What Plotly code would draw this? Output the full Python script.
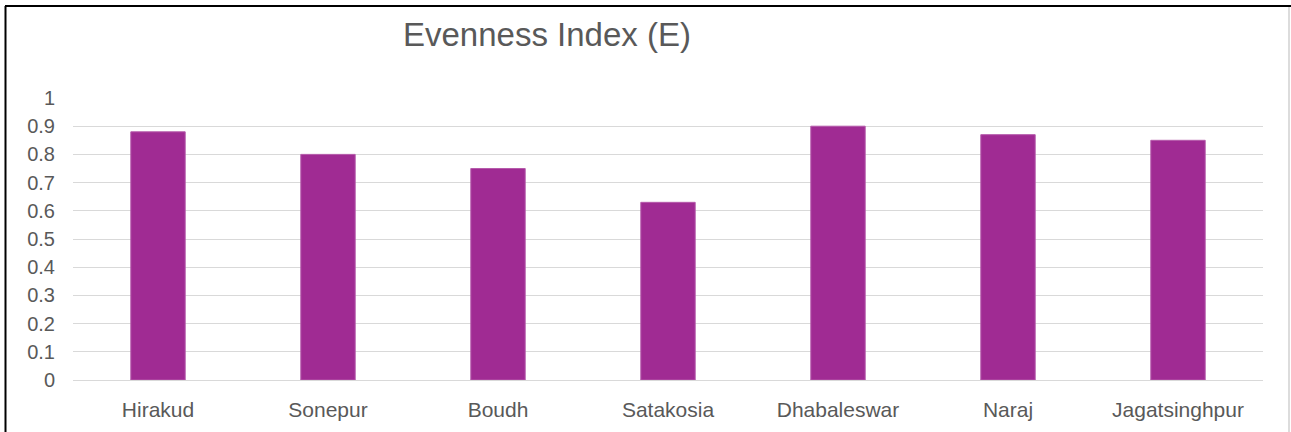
import plotly.graph_objects as go

sites = ["Hirakud", "Sonepur", "Boudh", "Satakosia", "Dhabaleswar", "Naraj", "Jagatsinghpur"]
evenness = [0.88, 0.80, 0.75, 0.63, 0.90, 0.87, 0.85]
y_ticks = [0, 0.1, 0.2, 0.3, 0.4, 0.5, 0.6, 0.7, 0.8, 0.9, 1]
y_tick_labels = ["0", "0.1", "0.2", "0.3", "0.4", "0.5", "0.6", "0.7", "0.8", "0.9", "1"]

W, H = 1291, 432
L, R, T, B = 73, 28, 98, 52
pw, ph = W - L - R, H - T - B

def px_x(p):
    return (p - L) / pw

def px_y(p):
    return (H - B - p) / ph

font = "Arial, 'Liberation Sans', sans-serif"
grey = "#595959"

fig = go.Figure(
    go.Bar(
        x=sites,
        y=evenness,
        marker=dict(color="#A02B93", line=dict(color="#B65AAB", width=1)),
    )
)

fig.update_layout(
    width=W,
    height=H,
    margin=dict(l=L, r=R, t=T, b=B, pad=0),
    paper_bgcolor="white",
    plot_bgcolor="white",
    bargap=0.68,
    showlegend=False,
    title=dict(
        text="Evenness Index (E)",
        font=dict(family=font, size=33, color=grey),
        x=547 / W,
        xref="container",
        xanchor="center",
        y=1 - 34 / H,
        yref="container",
        yanchor="middle",
    ),
    font=dict(family=font, color=grey),
    shapes=[
        dict(type="line", xref="paper", yref="paper",
             x0=px_x(5.5), x1=px_x(5.5), y0=px_y(6), y1=px_y(440),
             line=dict(color="black", width=2)),
        dict(type="line", xref="paper", yref="paper",
             x0=px_x(5), x1=px_x(1291), y0=px_y(6), y1=px_y(6),
             line=dict(color="black", width=2)),
        dict(type="line", xref="paper", yref="paper",
             x0=px_x(1289), x1=px_x(1289), y0=px_y(7), y1=px_y(440),
             line=dict(color="#d0d0d0", width=1.5)),
    ],
)

fig.update_xaxes(
    showgrid=False,
    showline=True,
    linecolor="#d9d9d9",
    linewidth=1,
    ticks="",
    tickfont=dict(family=font, size=21, color=grey),
    ticklabelstandoff=11,
)
fig.update_yaxes(
    range=[0, 1],
    tickvals=y_ticks,
    ticktext=y_tick_labels,
    showgrid=True,
    gridcolor="#d9d9d9",
    gridwidth=1,
    zeroline=False,
    showline=False,
    ticks="",
    tickfont=dict(family=font, size=20, color=grey),
    ticklabelstandoff=17,
)

fig.write_html("out.html")
